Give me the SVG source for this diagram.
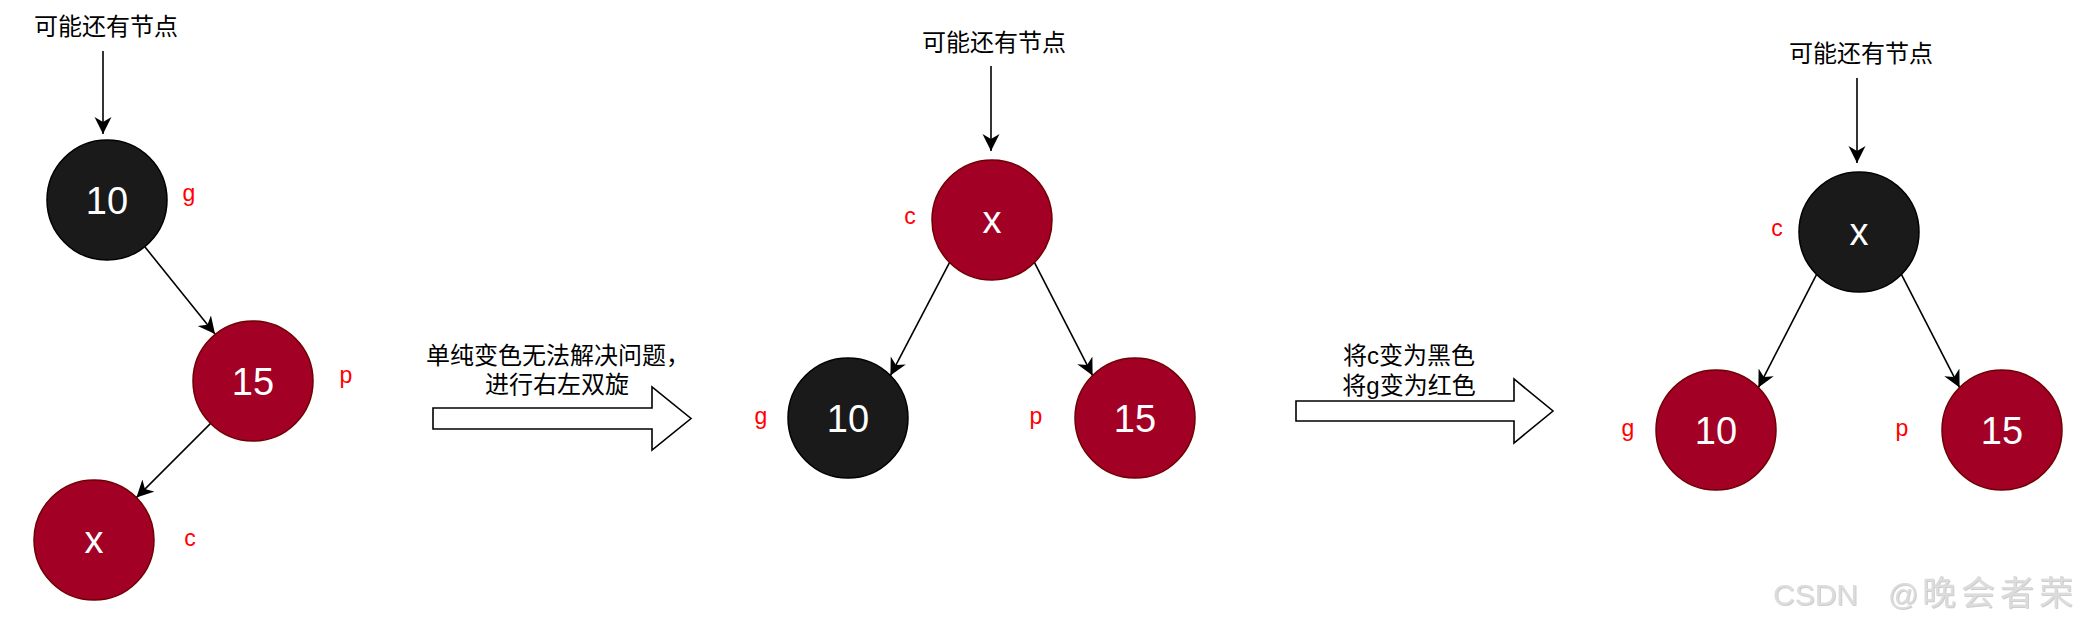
<svg xmlns="http://www.w3.org/2000/svg" width="2086" height="632" viewBox="0 0 2086 632">
<style>
.bg{fill:#ffffff}
.blk{fill:#1a1a1a;stroke:#000000;stroke-width:1.5}
.red{fill:#a20025;stroke:#6f0000;stroke-width:1.5}
.val{font-family:"Liberation Sans",Arial,sans-serif;font-size:38px;fill:#ffffff;text-anchor:middle}
.lbl{font-family:"Liberation Sans",Arial,sans-serif;font-size:23px;fill:#ff0000;text-anchor:middle}
.cjk{font-family:"Liberation Sans","Noto Sans CJK SC",sans-serif;font-size:24px;fill:#000000}
.edge{stroke:#000000;stroke-width:1.6;fill:none;marker-end:url(#arr)}
.big{fill:#ffffff;stroke:#000000;stroke-width:1.6;stroke-linejoin:miter}
.wm{font-family:"Liberation Sans","Noto Sans CJK SC",sans-serif;font-size:30px;fill:#dcdcdc}
</style>
<defs>
<marker id="arr" markerUnits="userSpaceOnUse" markerWidth="20" markerHeight="20" refX="17" refY="8.5" orient="auto" viewBox="0 0 20 20">
<path d="M0,0 L17,8.5 L0,17 L5,8.5 Z" fill="#000000" stroke="none"/>
</marker>
<filter id="emb" x="-5%" y="-20%" width="110%" height="140%">
<feDropShadow dx="0.8" dy="0.8" stdDeviation="0.5" flood-color="#a8a8a8" flood-opacity="0.7"/>
</filter>
</defs>
<rect class="bg" x="0" y="0" width="2086" height="632"/>

<g id="connectors">
<line class="edge" x1="103" y1="51" x2="103" y2="134"/>
<line class="edge" x1="145" y1="247" x2="215" y2="334"/>
<line class="edge" x1="210.6" y1="423.4" x2="136.4" y2="497.6"/>
<line class="edge" x1="991" y1="66" x2="991" y2="151"/>
<line class="edge" x1="949.6" y1="262.4" x2="890.4" y2="375.6"/>
<line class="edge" x1="1034.4" y1="262.4" x2="1092.6" y2="375.6"/>
<line class="edge" x1="1857" y1="78" x2="1857" y2="163"/>
<line class="edge" x1="1816.6" y1="274.4" x2="1758.4" y2="387.6"/>
<line class="edge" x1="1901.4" y1="274.4" x2="1959.6" y2="387.6"/>
</g>

<g id="title1"><text class="cjk" x="106" y="35" text-anchor="middle">可能还有节点</text></g>
<g id="title2"><text class="cjk" x="994" y="51" text-anchor="middle">可能还有节点</text></g>
<g id="title3"><text class="cjk" x="1861" y="62" text-anchor="middle">可能还有节点</text></g>

<g id="p1-n10"><circle class="blk" cx="107" cy="200" r="60"/><text class="val" x="107" y="214">10</text></g>
<g id="p1-n15"><circle class="red" cx="253" cy="381" r="60"/><text class="val" x="253" y="395">15</text></g>
<g id="p1-nx"><circle class="red" cx="94" cy="540" r="60"/><text class="val" x="94" y="553">x</text></g>
<g id="p1-labels">
<text class="lbl" x="189" y="201">g</text>
<text class="lbl" x="346" y="383">p</text>
<text class="lbl" x="190" y="546">c</text>
</g>

<g id="step1">
<polygon class="big" points="433,408 652,408 652,387 691,418.5 652,450 652,429 433,429"/>
<text class="cjk" x="426" y="364">单纯变色无法解决问题，</text>
<text class="cjk" x="485" y="393">进行右左双旋</text>
</g>

<g id="p2-nx"><circle class="red" cx="992" cy="220" r="60"/><text class="val" x="992" y="233">x</text></g>
<g id="p2-n10"><circle class="blk" cx="848" cy="418" r="60"/><text class="val" x="848" y="432">10</text></g>
<g id="p2-n15"><circle class="red" cx="1135" cy="418" r="60"/><text class="val" x="1135" y="432">15</text></g>
<g id="p2-labels">
<text class="lbl" x="910" y="224">c</text>
<text class="lbl" x="761" y="424">g</text>
<text class="lbl" x="1036" y="424">p</text>
</g>

<g id="step2">
<polygon class="big" points="1296,401 1514,401 1514,379 1553,411 1514,443 1514,421 1296,421"/>
<text class="cjk" x="1409" y="364" text-anchor="middle">将c变为黑色</text>
<text class="cjk" x="1409" y="394" text-anchor="middle">将g变为红色</text>
</g>

<g id="p3-nx"><circle class="blk" cx="1859" cy="232" r="60"/><text class="val" x="1859" y="245">x</text></g>
<g id="p3-n10"><circle class="red" cx="1716" cy="430" r="60"/><text class="val" x="1716" y="444">10</text></g>
<g id="p3-n15"><circle class="red" cx="2002" cy="430" r="60"/><text class="val" x="2002" y="444">15</text></g>
<g id="p3-labels">
<text class="lbl" x="1777" y="236">c</text>
<text class="lbl" x="1628" y="436">g</text>
<text class="lbl" x="1902" y="436">p</text>
</g>

<g id="watermark" filter="url(#emb)">
<text class="wm" x="1773" y="605">CSDN<tspan x="1888">@</tspan><tspan x="1922" font-size="34" letter-spacing="5">晚会者荣</tspan></text>
</g>
</svg>
